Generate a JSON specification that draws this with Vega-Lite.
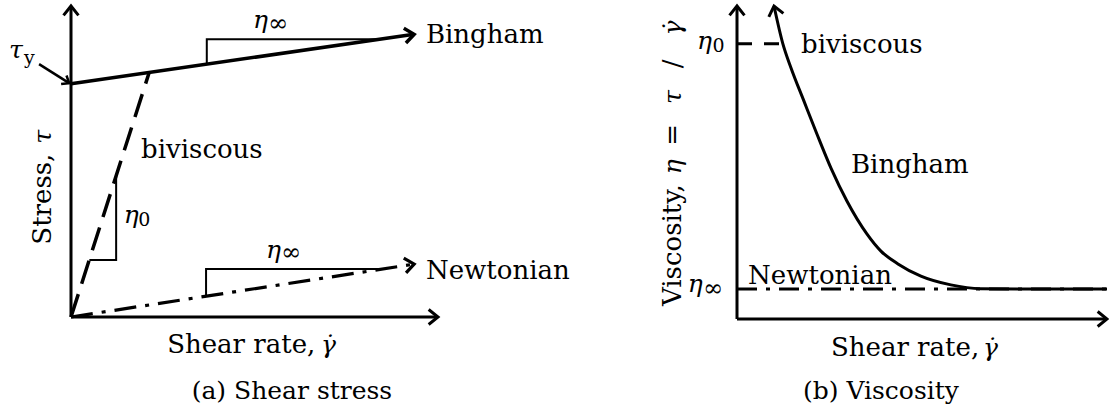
{
  "$schema": "https://vega.github.io/schema/vega-lite/v6.json",
  "background": "white",
  "padding": {"left": 8, "top": 0, "right": 0, "bottom": 0},
  "bounds": "flush",
  "spacing": 299,
  "config": {
    "view": {"stroke": null},
    "font": "DejaVu Serif",
    "text": {"font": "DejaVu Serif", "fontSize": 26, "color": "#000", "baseline": "alphabetic", "align": "left"}
  },
  "datasets": {
    "stress_axes": [
      {"axis": "shear rate", "shear_rate": 0, "stress": 0, "shear_rate2": 10, "stress2": 0},
      {"axis": "stress", "shear_rate": 0, "stress": 0, "shear_rate2": 0, "stress2": 10}
    ],
    "stress_curves": [
      {"model": "Bingham", "shear_rate": 0, "stress": 7.5},
      {"model": "Bingham", "shear_rate": 9.35, "stress": 9.09},
      {"model": "biviscous", "shear_rate": 0, "stress": 0},
      {"model": "biviscous", "shear_rate": 2.13, "stress": 7.86},
      {"model": "Newtonian", "shear_rate": 0, "stress": 0},
      {"model": "Newtonian", "shear_rate": 9.35, "stress": 1.7}
    ],
    "slope_triangles": [
      {"slope": "Bingham η∞", "k": 0, "shear_rate": 3.7, "stress": 8.13},
      {"slope": "Bingham η∞", "k": 1, "shear_rate": 3.7, "stress": 8.93},
      {"slope": "Bingham η∞", "k": 2, "shear_rate": 8.4, "stress": 8.93},
      {"slope": "biviscous η0", "k": 0, "shear_rate": 0.5, "stress": 1.83},
      {"slope": "biviscous η0", "k": 1, "shear_rate": 1.23, "stress": 1.83},
      {"slope": "biviscous η0", "k": 2, "shear_rate": 1.23, "stress": 4.54},
      {"slope": "Newtonian η∞", "k": 0, "shear_rate": 3.68, "stress": 0.67},
      {"slope": "Newtonian η∞", "k": 1, "shear_rate": 3.68, "stress": 1.54},
      {"slope": "Newtonian η∞", "k": 2, "shear_rate": 8.45, "stress": 1.54}
    ],
    "yield_pointer": [
      {"shear_rate": -0.87, "stress": 8.13, "shear_rate2": -0.05, "stress2": 7.52}
    ],
    "stress_words": [
      {"text": "Bingham", "shear_rate": 9.67, "stress": 8.81},
      {"text": "biviscous", "shear_rate": 1.91, "stress": 5.11},
      {"text": "Newtonian", "shear_rate": 9.67, "stress": 1.22},
      {"text": "Shear rate,", "shear_rate": 2.62, "stress": -1.16}
    ],
    "stress_symbols": [
      {"text": "η", "shear_rate": 4.96, "stress": 9.29},
      {"text": "η", "shear_rate": 5.31, "stress": 1.9},
      {"text": "η", "shear_rate": 1.44, "stress": 3.02},
      {"text": "τ", "shear_rate": -1.69, "stress": 8.33},
      {"text": "γ̇", "shear_rate": 6.81, "stress": -1.16}
    ],
    "stress_subscripts": [
      {"text": "∞", "shear_rate": 5.37, "stress": 9.21},
      {"text": "∞", "shear_rate": 5.72, "stress": 1.82},
      {"text": "0", "shear_rate": 1.83, "stress": 2.93},
      {"text": "y", "shear_rate": -1.28, "stress": 8.13}
    ],
    "stress_caption": [
      {"text": "(a) Shear stress", "shear_rate": 6.02, "stress": -2.64}
    ],
    "stress_title": [
      {"text": "Stress,", "shear_rate": -0.54, "stress": 3.79},
      {"text": "τ", "shear_rate": -0.54, "stress": 5.79}
    ],
    "viscosity_axes": [
      {"axis": "shear rate", "shear_rate": 0, "viscosity": 0, "shear_rate2": 10, "viscosity2": 0},
      {"axis": "viscosity", "shear_rate": 0, "viscosity": 0, "shear_rate2": 0, "viscosity2": 10}
    ],
    "viscosity_curves": [
      {"model": "Bingham", "shear_rate": 1.0, "viscosity": 10.0},
      {"model": "Bingham", "shear_rate": 1.24, "viscosity": 8.79},
      {"model": "Bingham", "shear_rate": 1.46, "viscosity": 8.02},
      {"model": "Bingham", "shear_rate": 1.81, "viscosity": 6.96},
      {"model": "Bingham", "shear_rate": 2.16, "viscosity": 5.91},
      {"model": "Bingham", "shear_rate": 2.54, "viscosity": 4.82},
      {"model": "Bingham", "shear_rate": 2.97, "viscosity": 3.77},
      {"model": "Bingham", "shear_rate": 3.51, "viscosity": 2.72},
      {"model": "Bingham", "shear_rate": 3.89, "viscosity": 2.17},
      {"model": "Bingham", "shear_rate": 4.35, "viscosity": 1.76},
      {"model": "Bingham", "shear_rate": 4.97, "viscosity": 1.37},
      {"model": "Bingham", "shear_rate": 5.78, "viscosity": 1.09},
      {"model": "Bingham", "shear_rate": 6.59, "viscosity": 0.97},
      {"model": "Bingham", "shear_rate": 7.68, "viscosity": 0.96},
      {"model": "Bingham", "shear_rate": 10, "viscosity": 0.96},
      {"model": "biviscous", "shear_rate": 0, "viscosity": 8.79},
      {"model": "biviscous", "shear_rate": 1.24, "viscosity": 8.79},
      {"model": "Newtonian", "shear_rate": 0, "viscosity": 0.96},
      {"model": "Newtonian", "shear_rate": 10, "viscosity": 0.96}
    ],
    "viscosity_words": [
      {"text": "biviscous", "shear_rate": 1.73, "viscosity": 8.5},
      {"text": "Bingham", "shear_rate": 3.08, "viscosity": 4.66},
      {"text": "Newtonian", "shear_rate": 0.3, "viscosity": 1.12},
      {"text": "Shear rate,", "shear_rate": 2.54, "viscosity": -1.18}
    ],
    "viscosity_symbols": [
      {"text": "η", "shear_rate": -1.08, "viscosity": 8.63},
      {"text": "η", "shear_rate": -1.33, "viscosity": 0.86},
      {"text": "γ̇", "shear_rate": 6.65, "viscosity": -1.18}
    ],
    "viscosity_subscripts": [
      {"text": "0", "shear_rate": -0.66, "viscosity": 8.53},
      {"text": "∞", "shear_rate": -0.92, "viscosity": 0.73}
    ],
    "viscosity_caption": [
      {"text": "(b) Viscosity", "shear_rate": 3.89, "viscosity": -2.56}
    ],
    "viscosity_title_words": [
      {"text": "Viscosity,", "shear_rate": -1.51, "viscosity": 2.36},
      {"text": "=", "shear_rate": -1.51, "viscosity": 5.88},
      {"text": "/", "shear_rate": -1.51, "viscosity": 8.15}
    ],
    "viscosity_title_symbols": [
      {"text": "η", "shear_rate": -1.51, "viscosity": 4.86},
      {"text": "τ", "shear_rate": -1.51, "viscosity": 7.09},
      {"text": "γ̇", "shear_rate": -1.51, "viscosity": 9.3}
    ]
  },
  "hconcat": [
    {
      "width": 367,
      "height": 311,
      "encoding": {
        "x": {"field": "shear_rate", "type": "quantitative", "scale": {"domain": [0, 10], "nice": false, "zero": false}, "axis": null},
        "y": {"field": "stress", "type": "quantitative", "scale": {"domain": [0, 10], "nice": false, "zero": false}, "axis": null}
      },
      "layer": [
        {
          "data": {"name": "stress_axes"},
          "mark": {"type": "rule", "strokeWidth": 3, "color": "#000"},
          "encoding": {"x2": {"field": "shear_rate2"}, "y2": {"field": "stress2"}}
        },
        {
          "data": {"name": "stress_axes"},
          "transform": [{"filter": "datum.axis === 'shear rate'"}],
          "mark": {"type": "point", "shape": "M-1,-0.8L0,0L-1,0.8", "filled": false, "stroke": "#000", "strokeWidth": 3, "strokeJoin": "miter", "size": 350, "angle": 0, "opacity": 1},
          "encoding": {"x": {"field": "shear_rate2", "type": "quantitative"}, "y": {"field": "stress2", "type": "quantitative"}}
        },
        {
          "data": {"name": "stress_axes"},
          "transform": [{"filter": "datum.axis === 'stress'"}],
          "mark": {"type": "point", "shape": "M-1,-0.8L0,0L-1,0.8", "filled": false, "stroke": "#000", "strokeWidth": 3, "strokeJoin": "miter", "size": 350, "angle": -90, "opacity": 1},
          "encoding": {"x": {"field": "shear_rate2", "type": "quantitative"}, "y": {"field": "stress2", "type": "quantitative"}}
        },
        {
          "data": {"name": "slope_triangles"},
          "mark": {"type": "line", "strokeWidth": 2, "color": "#000", "strokeJoin": "miter"},
          "encoding": {"detail": {"field": "slope"}, "order": {"field": "k", "type": "quantitative"}}
        },
        {
          "data": {"name": "stress_curves"},
          "transform": [{"filter": "datum.model === 'Bingham'"}],
          "mark": {"type": "line", "strokeWidth": 3.5, "color": "#000"},
          "encoding": {}
        },
        {
          "data": {"name": "stress_curves"},
          "transform": [{"filter": "datum.model === 'Bingham' && datum.shear_rate > 9"}],
          "mark": {"type": "point", "shape": "M-1,-0.8L0,0L-1,0.8", "filled": false, "stroke": "#000", "strokeWidth": 3.5, "strokeJoin": "miter", "size": 350, "angle": -8.2, "opacity": 1},
          "encoding": {}
        },
        {
          "data": {"name": "stress_curves"},
          "transform": [{"filter": "datum.model === 'biviscous'"}],
          "mark": {"type": "line", "strokeWidth": 3.5, "color": "#000", "strokeDash": [24, 11]},
          "encoding": {}
        },
        {
          "data": {"name": "stress_curves"},
          "transform": [{"filter": "datum.model === 'Newtonian'"}],
          "mark": {"type": "line", "strokeWidth": 3.2, "color": "#000", "strokeDash": [22, 9, 4, 9]},
          "encoding": {}
        },
        {
          "data": {"name": "stress_curves"},
          "transform": [{"filter": "datum.model === 'Newtonian' && datum.shear_rate > 9"}],
          "mark": {"type": "point", "shape": "M-1,-0.8L0,0L-1,0.8", "filled": false, "stroke": "#000", "strokeWidth": 3.2, "strokeJoin": "miter", "size": 350, "angle": -8.8, "opacity": 1},
          "encoding": {}
        },
        {
          "data": {"name": "yield_pointer"},
          "mark": {"type": "rule", "strokeWidth": 2.5, "color": "#000"},
          "encoding": {"x2": {"field": "shear_rate2"}, "y2": {"field": "stress2"}}
        },
        {
          "data": {"name": "yield_pointer"},
          "mark": {"type": "point", "shape": "M-1,-0.8L0,0L-1,0.8", "filled": false, "stroke": "#000", "strokeWidth": 2.5, "strokeJoin": "miter", "size": 160, "angle": 32, "opacity": 1},
          "encoding": {"x": {"field": "shear_rate2", "type": "quantitative"}, "y": {"field": "stress2", "type": "quantitative"}}
        },
        {
          "data": {"name": "stress_words"},
          "mark": {"type": "text", "font": "DejaVu Serif", "fontSize": 26, "align": "left", "baseline": "alphabetic"},
          "encoding": {"text": {"field": "text"}}
        },
        {
          "data": {"name": "stress_symbols"},
          "mark": {"type": "text", "font": "DejaVu Serif", "fontSize": 25, "fontStyle": "italic", "align": "left", "baseline": "alphabetic"},
          "encoding": {"text": {"field": "text"}}
        },
        {
          "data": {"name": "stress_subscripts"},
          "transform": [{"filter": "datum.text === '∞'"}],
          "mark": {"type": "text", "font": "DejaVu Serif", "fontSize": 24, "align": "left", "baseline": "alphabetic"},
          "encoding": {"text": {"field": "text"}}
        },
        {
          "data": {"name": "stress_subscripts"},
          "transform": [{"filter": "datum.text !== '∞'"}],
          "mark": {"type": "text", "font": "DejaVu Serif", "fontSize": 19, "align": "left", "baseline": "alphabetic"},
          "encoding": {"text": {"field": "text"}}
        },
        {
          "data": {"name": "stress_caption"},
          "mark": {"type": "text", "font": "DejaVu Serif", "fontSize": 25, "align": "center", "baseline": "alphabetic"},
          "encoding": {"text": {"field": "text"}}
        },
        {
          "data": {"name": "stress_title"},
          "transform": [{"filter": "datum.text !== 'τ'"}],
          "mark": {"type": "text", "font": "DejaVu Serif", "fontSize": 26, "align": "center", "baseline": "alphabetic", "angle": -90},
          "encoding": {"text": {"field": "text"}}
        },
        {
          "data": {"name": "stress_title"},
          "transform": [{"filter": "datum.text === 'τ'"}],
          "mark": {"type": "text", "font": "DejaVu Serif", "fontSize": 25, "align": "center", "baseline": "alphabetic", "angle": -90, "fontStyle": "italic"},
          "encoding": {"text": {"field": "text"}}
        }
      ]
    },
    {
      "width": 370,
      "height": 313,
      "encoding": {
        "x": {"field": "shear_rate", "type": "quantitative", "scale": {"domain": [0, 10], "nice": false, "zero": false}, "axis": null},
        "y": {"field": "viscosity", "type": "quantitative", "scale": {"domain": [0, 10], "nice": false, "zero": false}, "axis": null}
      },
      "layer": [
        {
          "data": {"name": "viscosity_axes"},
          "mark": {"type": "rule", "strokeWidth": 3, "color": "#000"},
          "encoding": {"x2": {"field": "shear_rate2"}, "y2": {"field": "viscosity2"}}
        },
        {
          "data": {"name": "viscosity_axes"},
          "transform": [{"filter": "datum.axis === 'shear rate'"}],
          "mark": {"type": "point", "shape": "M-1,-0.8L0,0L-1,0.8", "filled": false, "stroke": "#000", "strokeWidth": 3, "strokeJoin": "miter", "size": 350, "angle": 0, "opacity": 1},
          "encoding": {"x": {"field": "shear_rate2", "type": "quantitative"}, "y": {"field": "viscosity2", "type": "quantitative"}}
        },
        {
          "data": {"name": "viscosity_axes"},
          "transform": [{"filter": "datum.axis === 'viscosity'"}],
          "mark": {"type": "point", "shape": "M-1,-0.8L0,0L-1,0.8", "filled": false, "stroke": "#000", "strokeWidth": 3, "strokeJoin": "miter", "size": 350, "angle": -90, "opacity": 1},
          "encoding": {"x": {"field": "shear_rate2", "type": "quantitative"}, "y": {"field": "viscosity2", "type": "quantitative"}}
        },
        {
          "data": {"name": "viscosity_curves"},
          "transform": [{"filter": "datum.model === 'Newtonian'"}],
          "mark": {"type": "line", "strokeWidth": 3, "color": "#000", "strokeDash": [20, 9, 4, 9]},
          "encoding": {}
        },
        {
          "data": {"name": "viscosity_curves"},
          "transform": [{"filter": "datum.model === 'biviscous'"}],
          "mark": {"type": "line", "strokeWidth": 3, "color": "#000", "strokeDash": [15, 12]},
          "encoding": {}
        },
        {
          "data": {"name": "viscosity_curves"},
          "transform": [{"filter": "datum.model === 'Bingham'"}],
          "mark": {"type": "line", "strokeWidth": 3, "color": "#000", "interpolate": "monotone"},
          "encoding": {}
        },
        {
          "data": {"name": "viscosity_curves"},
          "transform": [{"filter": "datum.model === 'Bingham' && datum.viscosity >= 10"}],
          "mark": {"type": "point", "shape": "M-1,-0.8L0,0L-1,0.8", "filled": false, "stroke": "#000", "strokeWidth": 3, "strokeJoin": "miter", "size": 350, "angle": -103, "opacity": 1},
          "encoding": {}
        },
        {
          "data": {"name": "viscosity_words"},
          "mark": {"type": "text", "font": "DejaVu Serif", "fontSize": 26, "align": "left", "baseline": "alphabetic"},
          "encoding": {"text": {"field": "text"}}
        },
        {
          "data": {"name": "viscosity_symbols"},
          "mark": {"type": "text", "font": "DejaVu Serif", "fontSize": 25, "fontStyle": "italic", "align": "left", "baseline": "alphabetic"},
          "encoding": {"text": {"field": "text"}}
        },
        {
          "data": {"name": "viscosity_subscripts"},
          "transform": [{"filter": "datum.text === '∞'"}],
          "mark": {"type": "text", "font": "DejaVu Serif", "fontSize": 24, "align": "left", "baseline": "alphabetic"},
          "encoding": {"text": {"field": "text"}}
        },
        {
          "data": {"name": "viscosity_subscripts"},
          "transform": [{"filter": "datum.text !== '∞'"}],
          "mark": {"type": "text", "font": "DejaVu Serif", "fontSize": 19, "align": "left", "baseline": "alphabetic"},
          "encoding": {"text": {"field": "text"}}
        },
        {
          "data": {"name": "viscosity_caption"},
          "mark": {"type": "text", "font": "DejaVu Serif", "fontSize": 25, "align": "center", "baseline": "alphabetic"},
          "encoding": {"text": {"field": "text"}}
        },
        {
          "data": {"name": "viscosity_title_words"},
          "mark": {"type": "text", "font": "DejaVu Serif", "fontSize": 26, "align": "center", "baseline": "alphabetic", "angle": -90},
          "encoding": {"text": {"field": "text"}}
        },
        {
          "data": {"name": "viscosity_title_symbols"},
          "mark": {"type": "text", "font": "DejaVu Serif", "fontSize": 25, "align": "center", "baseline": "alphabetic", "angle": -90, "fontStyle": "italic"},
          "encoding": {"text": {"field": "text"}}
        }
      ]
    }
  ]
}
